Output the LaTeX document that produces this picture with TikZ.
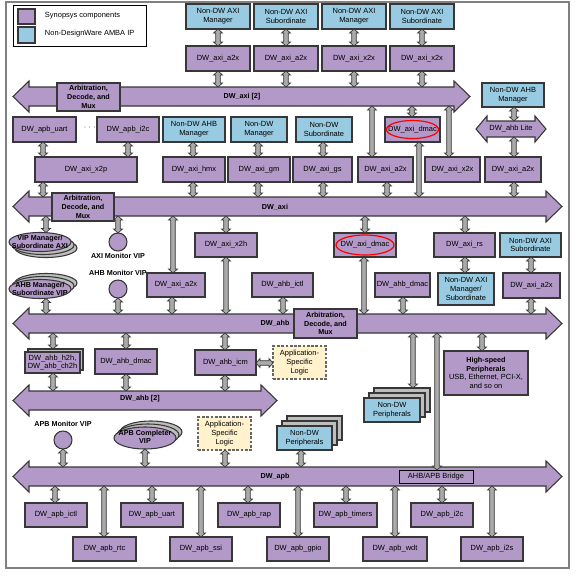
\documentclass[tikz,border=0pt]{standalone}
\usepackage{fontspec}
\setmainfont{Liberation Sans}
\usetikzlibrary{shapes.geometric,calc}
\definecolor{pcol}{RGB}{178,153,199}
\definecolor{bcol}{RGB}{152,203,226}
\definecolor{boxln}{RGB}{55,55,55}
\definecolor{arrfill}{RGB}{170,170,170}
\definecolor{ycol}{RGB}{255,242,204}
\definecolor{framec}{RGB}{128,128,128}
\definecolor{shadc}{RGB}{190,190,190}
\newcommand\fs{\fontsize{5.6pt}{6.6pt}\selectfont}
\newcommand\fsb{\fontsize{5.4pt}{6.3pt}\selectfont\bfseries}
\newcommand\bx[6][pbox]{\node[#1, minimum width={(#4-#2)*0.75pt}, minimum height={(#5-#3)*0.75pt}] (#6) at ({(#2+#4)/2},{(#3+#5)/2})}
\newcommand\busarrow[7]{%
 \path[busst] (#2,{(#4+#5)/2}) -- (#2+#6,#4-#7) -- (#2+#6,#4) -- (#3-#6,#4) -- (#3-#6,#4-#7) -- (#3,{(#4+#5)/2}) -- (#3-#6,#5+#7) -- (#3-#6,#5) -- (#2+#6,#5) -- (#2+#6,#5+#7) -- cycle;
 \node[minimum width={(#3-#2-2*#6)*0.75pt}, minimum height={(#5-#4)*0.75pt}] (#1) at ({(#2+#3)/2},{(#4+#5)/2}) {};}
\newcommand\varr[3]{\path[arr] let \p1=(#2.south), \p2=(#3.north), \p3=(#1,0) in
 (\x3,\y1) -- (\x3+3.4pt,\y1-3pt) -- (\x3+1.7pt,\y1-3pt) -- (\x3+1.7pt,\y2+3pt) -- (\x3+3.4pt,\y2+3pt) -- (\x3,\y2) -- (\x3-3.4pt,\y2+3pt) -- (\x3-1.7pt,\y2+3pt) -- (\x3-1.7pt,\y1-3pt) -- (\x3-3.4pt,\y1-3pt) -- cycle;}
\newcommand\harr[3]{\path[arr] let \p1=(#2.east), \p2=(#3.west), \p3=(0,#1) in
 (\x1,\y3) -- (\x1+3pt,\y3+3.4pt) -- (\x1+3pt,\y3+1.7pt) -- (\x2-3pt,\y3+1.7pt) -- (\x2-3pt,\y3+3.4pt) -- (\x2,\y3) -- (\x2-3pt,\y3-3.4pt) -- (\x2-3pt,\y3-1.7pt) -- (\x1+3pt,\y3-1.7pt) -- (\x1+3pt,\y3-3.4pt) -- cycle;}
\begin{document}
\begin{tikzpicture}[x=0.75pt,y=-0.75pt,
 every node/.style={font=\fs, inner sep=0pt, outer sep=0pt, align=center},
 pbox/.style={draw=boxln, fill=pcol, line width=0.8pt},
 bbox/.style={pbox, fill=bcol},
 sbox/.style={pbox, fill=shadc},
 ybox/.style={draw=black!60, fill=ycol, line width=1pt, dash pattern=on 2pt off 1.2pt},
 legbox/.style={draw=black, line width=0.6pt},
 arr/.style={fill=arrfill, draw=boxln, line width=0.5pt},
 busst/.style={fill=pcol, draw=boxln, line width=0.8pt},
 lbl/.style={font=\fsb},
 ell/.style={ellipse, draw=boxln, fill=pcol, line width=0.8pt},
 sell/.style={ellipse, draw=boxln, fill=shadc, line width=0.8pt},
 mon/.style={circle, draw=boxln, fill=pcol, line width=0.8pt, minimum size={18*0.75pt}},
 redell/.style={ellipse, draw=red, line width=0.9pt}]
\useasboundingbox (0,0) rectangle (587,576);
\draw[framec, line width=1.2pt] (6,2) rectangle (569,568);

% legend
\bx[legbox]{13}{5}{146}{46}{legend}{};
\bx{18}{9}{35}{24}{lgp}{};
\bx[bbox]{18}{27}{35}{43}{lgb}{};
\node[anchor=west] (lgt1) at (45,16) {Synopsys components};
\node[anchor=west] (lgt2) at (45,34) {Non-DesignWare AMBA IP};

% top rows
\bx[bbox]{186}{4}{250}{29}{t1}{Non-DW AXI\\Manager};
\bx[bbox]{254}{4}{318}{29}{t2}{Non-DW AXI\\Subordinate};
\bx[bbox]{322}{4}{386}{29}{t3}{Non-DW AXI\\Manager};
\bx[bbox]{390}{4}{454}{29}{t4}{Non-DW AXI\\Subordinate};
\bx{186}{46}{250}{71}{r2a}{DW\_axi\_a2x};
\bx{254}{46}{318}{71}{r2b}{DW\_axi\_a2x};
\bx{322}{46}{386}{71}{r2c}{DW\_axi\_x2x};
\bx{390}{46}{454}{71}{r2d}{DW\_axi\_x2x};

% DW_axi [2]
\busarrow{axiB2}{13}{470}{87}{106}{16}{6}
\node[lbl] (laxi2) at (242,97) {DW\_axi [2]};
\bx{57}{83}{120}{111}{arb1}{\fsb Arbitration,\\\fsb Decode, and\\\fsb Mux};

% row 3
\bx{13}{117}{76}{142}{uart}{DW\_apb\_uart};
\node (dots) at (90,128) {$\cdots$};
\bx{97}{117}{159}{142}{i2c}{DW\_apb\_i2c};
\bx[bbox]{163}{117}{225}{142}{ahbm}{Non-DW AHB\\Manager};
\bx[bbox]{231}{117}{287}{142}{ndm}{Non-DW\\Manager};
\bx[bbox]{296}{117}{352}{142}{nds}{Non-DW\\Subordinate};
\bx{385}{117}{440}{142}{dmacA}{DW\_axi\_dmac};
\node[redell, minimum width={52*0.75pt}, minimum height={18*0.75pt}] (redA) at (dmacA.center) {};
\bx[bbox]{482}{83}{544}{107}{nahbm}{Non-DW AHB\\Manager};
\busarrow{ahblite}{476}{546}{121}{137}{11}{5}
\node (lahblite) at (511,129) {DW\_ahb Lite};

% row 4
\bx{35}{157}{137}{182}{x2p}{DW\_axi\_x2p};
\bx{163}{157}{225}{182}{hmx}{DW\_axi\_hmx};
\bx{228}{157}{290}{182}{gm}{DW\_axi\_gm};
\bx{293}{157}{352}{182}{gs}{DW\_axi\_gs};
\bx{358}{157}{413}{182}{a2xD}{DW\_axi\_a2x};
\bx{425}{157}{480}{182}{x2xE}{DW\_axi\_x2x};
\bx{485}{157}{541}{182}{a2xF}{DW\_axi\_a2x};

% DW_axi
\busarrow{axiB}{13}{562}{197}{216}{16}{6}
\node[lbl] (laxi) at (275,207) {DW\_axi};
\bx{52}{193}{114}{221}{arb2}{\fsb Arbitration,\\\fsb Decode, and\\\fsb Mux};

% between DW_axi and DW_ahb
\node[sell, minimum width={62*0.75pt}, minimum height={19*0.75pt}] (vipaxis2) at (46,248) {};
\node[sell, minimum width={62*0.75pt}, minimum height={19*0.75pt}] (vipaxis1) at (43,245) {};
\node[ell, minimum width={62*0.75pt}, minimum height={19*0.75pt}] (vipaxi) at (40,242) {};
\node[font=\fsb] (vipaxit) at (40,242) {VIP Manager/\\Subordinate AXI};
\node[mon] (axmon) at (118,242) {};
\node[lbl] (axmonl) at (118,256) {AXI Monitor VIP};
\bx{195}{233}{257}{257}{x2h}{DW\_axi\_x2h};
\bx{334}{233}{396}{257}{dmacB}{DW\_axi\_dmac};
\node[redell, minimum width={58*0.75pt}, minimum height={20*0.75pt}] (redB) at (dmacB.center) {};
\bx{434}{233}{495}{257}{rs}{DW\_axi\_rs};
\bx[bbox]{500}{233}{561}{257}{nds2}{Non-DW AXI\\Subordinate};

\node[lbl] (ahmonl) at (118,273) {AHB Monitor VIP};
\node[mon] (ahmon) at (118,289) {};
\node[sell, minimum width={62*0.75pt}, minimum height={19*0.75pt}] (vipahbs2) at (46,283) {};
\node[sell, minimum width={62*0.75pt}, minimum height={19*0.75pt}] (vipahbs1) at (43,286) {};
\node[ell, minimum width={62*0.75pt}, minimum height={19*0.75pt}] (vipahb) at (40,289) {};
\node[font=\fsb] (vipahbt) at (40,289) {AHB Manager/\\Subordinate VIP};
\bx{147}{273}{205}{297}{a2xL}{DW\_axi\_a2x};
\bx{252}{273}{313}{297}{ictl}{DW\_ahb\_ictl};
\bx{375}{273}{430}{297}{ahbdmac}{DW\_ahb\_dmac};
\bx[bbox]{438}{273}{494}{305}{ndams}{Non-DW AXI\\Manager/\\Subordinate};
\bx{503}{273}{560}{298}{a2xR}{DW\_axi\_a2x};

% DW_ahb
\busarrow{ahbB}{13}{562}{314}{333}{16}{6}
\node[lbl] (lahb) at (275,323) {DW\_ahb};
\bx{294}{309}{357}{338}{arb3}{\fsb Arbitration,\\\fsb Decode, and\\\fsb Mux};

% below DW_ahb
\bx[sbox]{28}{349}{83}{370}{h2hb}{};
\bx{25}{352}{80}{373}{h2h}{DW\_ahb\_h2h,\\DW\_ahb\_ch2h};
\bx{95}{349}{157}{374}{ahbdmac2}{DW\_ahb\_dmac};
\bx{195}{350}{256}{375}{icm}{DW\_ahb\_icm};
\bx[ybox]{273}{346}{326}{379}{asl1}{Application-\\Specific\\Logic};
\bx[sbox]{374}{388}{430}{412}{ndpA2}{};
\bx[sbox]{369}{393}{425}{417}{ndpA1}{};
\bx[bbox]{364}{398}{420}{422}{ndpA}{Non-DW\\Peripherals};
\bx{444}{351}{528}{395}{hsp}{\fsb High-speed\\\fsb Peripherals\\USB, Ethernet, PCI-X,\\and so on};

% DW_ahb [2]
\busarrow{ahbB2}{13}{277}{391}{410}{16}{6}
\node[lbl] (lahb2) at (140,399) {DW\_ahb [2]};

% lower
\node[lbl] (apbmonl) at (63,424) {APB Monitor VIP};
\node[mon] (apbmon) at (63,440) {};
\node[sell, minimum width={62*0.75pt}, minimum height={22*0.75pt}] (apbcs2) at (151,432) {};
\node[sell, minimum width={62*0.75pt}, minimum height={22*0.75pt}] (apbcs1) at (148,435) {};
\node[ell, minimum width={62*0.75pt}, minimum height={22*0.75pt}] (apbcomp) at (145,438) {};
\node[font=\fsb] (apbct) at (145,437) {APB Completer\\VIP};
\bx[ybox]{198}{417}{251}{450}{asl2}{Application-\\Specific\\Logic};
\bx[sbox]{287}{416}{342}{440}{ndpB2}{};
\bx[sbox]{282}{421}{337}{445}{ndpB1}{};
\bx[bbox]{277}{426}{332}{450}{ndpB}{Non-DW\\Peripherals};

% DW_apb
\busarrow{apbB}{13}{562}{467}{486}{16}{6}
\node[lbl] (lapb) at (275,477) {DW\_apb};
\bx[legbox]{399}{470}{473}{483}{bridge}{AHB/APB Bridge};

% APB peripherals
\bx{25}{503}{87}{527}{pictl}{DW\_apb\_ictl};
\bx{121}{503}{183}{527}{puart}{DW\_apb\_uart};
\bx{218}{503}{280}{527}{prap}{DW\_apb\_rap};
\bx{314}{503}{377}{527}{ptim}{DW\_apb\_timers};
\bx{411}{503}{473}{527}{pi2c}{DW\_apb\_i2c};
\bx{73}{537}{136}{561}{prtc}{DW\_apb\_rtc};
\bx{170}{537}{232}{561}{pssi}{DW\_apb\_ssi};
\bx{267}{537}{329}{561}{pgpio}{DW\_apb\_gpio};
\bx{363}{537}{427}{561}{pwdt}{DW\_apb\_wdt};
\bx{461}{537}{523}{561}{pi2s}{DW\_apb\_i2s};

% connectors
\varr{218}{t1}{r2a}\varr{286}{t2}{r2b}\varr{354}{t3}{r2c}\varr{422}{t4}{r2d}
\varr{218}{r2a}{axiB2}\varr{286}{r2b}{axiB2}\varr{354}{r2c}{axiB2}\varr{422}{r2d}{axiB2}
\varr{43}{uart}{x2p}\varr{128}{i2c}{x2p}\varr{193}{ahbm}{hmx}\varr{258}{ndm}{gm}\varr{323}{nds}{gs}
\varr{372}{axiB2}{a2xD}\varr{412}{axiB2}{dmacA}\varr{449}{axiB2}{x2xE}
\varr{419}{dmacA}{axiB}
\varr{514}{nahbm}{ahblite}\varr{514}{ahblite}{a2xF}
\varr{43}{x2p}{axiB}\varr{193}{hmx}{axiB}\varr{258}{gm}{axiB}\varr{323}{gs}{axiB}\varr{387}{a2xD}{axiB}\varr{514}{a2xF}{axiB}
\varr{46}{axiB}{vipaxi}\varr{118}{axiB}{axmon}\varr{173}{axiB}{a2xL}\varr{226}{axiB}{x2h}\varr{365}{axiB}{dmacB}\varr{465}{axiB}{rs}
\varr{465}{rs}{ndams}\varr{531}{nds2}{a2xR}
\varr{46}{vipahb}{ahbB}\varr{118}{ahmon}{ahbB}\varr{172}{a2xL}{ahbB}\varr{226}{x2h}{ahbB}\varr{283}{ictl}{ahbB}\varr{364}{dmacB}{ahbB}\varr{403}{ahbdmac}{ahbB}\varr{531}{a2xR}{ahbB}
\varr{53}{ahbB}{h2hb}\varr{53}{h2h}{ahbB2}\varr{126}{ahbB}{ahbdmac2}\varr{126}{ahbdmac2}{ahbB2}\varr{225}{ahbB}{icm}\varr{225}{icm}{ahbB2}
\harr{363}{icm}{asl1}
\varr{413}{ahbB}{ndpA2}\varr{437}{ahbB}{bridge}\varr{482}{ahbB}{hsp}
\varr{63}{apbmon}{apbB}\varr{145}{apbcomp}{apbB}\varr{225}{asl2}{apbB}\varr{301}{ndpB}{apbB}
\varr{55}{apbB}{pictl}\varr{152}{apbB}{puart}\varr{248}{apbB}{prap}\varr{346}{apbB}{ptim}\varr{442}{apbB}{pi2c}
\varr{104}{apbB}{prtc}\varr{201}{apbB}{pssi}\varr{298}{apbB}{pgpio}\varr{395}{apbB}{pwdt}\varr{492}{apbB}{pi2s}
\end{tikzpicture}
\end{document}
